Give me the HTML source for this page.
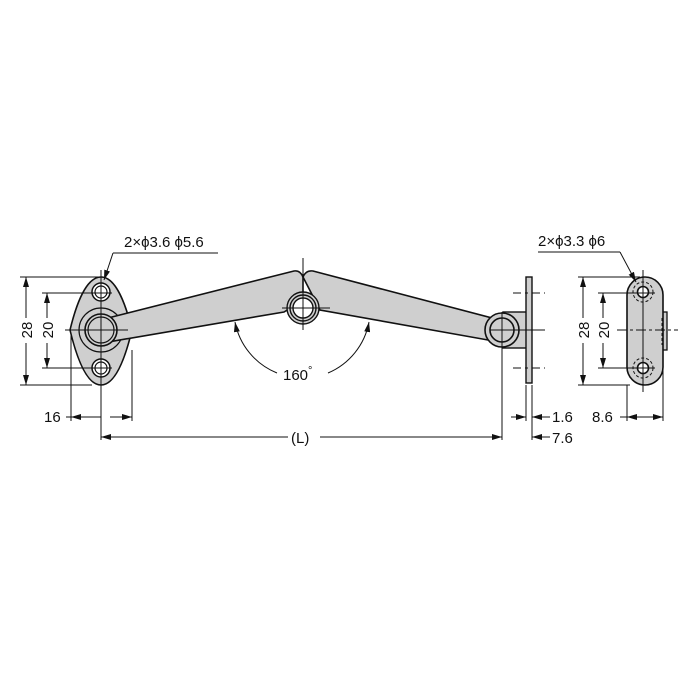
<!DOCTYPE html>
<html><head><meta charset="utf-8"><style>html,body{margin:0;padding:0;background:#fff}svg{display:block}</style></head>
<body>
<svg width="700" height="700" viewBox="0 0 700 700" xmlns="http://www.w3.org/2000/svg" font-family="Liberation Sans, Arial, sans-serif">
<defs>
<marker id="a" viewBox="0 0 10 6" refX="10" refY="3" markerWidth="10" markerHeight="6" orient="auto-start-reverse" markerUnits="userSpaceOnUse"><path d="M0,0L10,3L0,6z" fill="#111"/></marker>
</defs>
<g stroke="#111" fill="none">
<path d="M101,277 C116,277 126,305 132,330 C126,355 116,385 101,385 C86,385 76,355 70,330 C76,305 86,277 101,277Z" fill="#cfcfcf" stroke-width="1.6"/>
<circle cx="101" cy="330" r="22" stroke-width="1.2"/>
<circle cx="101" cy="292" r="9" fill="#fff" stroke-width="1.5"/><circle cx="101" cy="292" r="6" stroke-width="1.2"/>
<circle cx="101" cy="368" r="9" fill="#fff" stroke-width="1.5"/><circle cx="101" cy="368" r="6" stroke-width="1.2"/>
<path d="M108,318 L294,271 Q300,270 303,277 L303,300 L284,312 L108,342Z" fill="#cfcfcf" stroke-width="1.6"/>
<circle cx="101" cy="330" r="16" fill="#cfcfcf" stroke-width="1.6"/>
<circle cx="101" cy="330" r="13" stroke-width="1.2"/>
<path d="M303,277 Q306,270 313,271 L492,318 L488,340 L320,310 Z" fill="#cfcfcf" stroke-width="1.6"/>
<circle cx="303" cy="308" r="16" fill="#cfcfcf" stroke-width="1.4"/>
<circle cx="303" cy="308" r="13" stroke-width="1.4"/>
<circle cx="303" cy="308" r="10" fill="#fff" stroke-width="1.4"/>
<rect x="503" y="312" width="24" height="36" fill="#cfcfcf" stroke-width="1.4"/>
<circle cx="502" cy="330" r="17" fill="#cfcfcf" stroke-width="1.6"/>
<circle cx="502" cy="330" r="12" stroke-width="1.6"/>
<rect x="526" y="277" width="6" height="106" fill="#cfcfcf" stroke-width="1.4"/>
<rect x="662" y="312" width="5" height="38" fill="#cfcfcf" stroke-width="1.3"/>
<rect x="627" y="277" width="36" height="108" rx="18" fill="#cfcfcf" stroke-width="1.6"/>
<circle cx="643" cy="292" r="10" stroke-dasharray="3,2" stroke-width="1"/>
<circle cx="643" cy="368" r="10" stroke-dasharray="3,2" stroke-width="1"/>
<circle cx="643" cy="292" r="5.5" fill="#fff" stroke-width="1.6"/>
<circle cx="643" cy="368" r="5.5" fill="#fff" stroke-width="1.6"/>
<line x1="662" y1="318" x2="662" y2="345" stroke-dasharray="3,2" stroke-width="1"/>
</g>
<g stroke="#111" stroke-width="1" fill="none">
<line x1="101" y1="270" x2="101" y2="440"/>
<line x1="65" y1="330" x2="128" y2="330"/>
<line x1="303" y1="258" x2="303" y2="330"/><line x1="282" y1="308" x2="330" y2="308"/>
<line x1="502" y1="312" x2="502" y2="440"/><line x1="490" y1="330" x2="545" y2="330"/>
<line x1="513" y1="293" x2="545" y2="293" stroke-dasharray="8,4,3,4"/>
<line x1="513" y1="368" x2="545" y2="368" stroke-dasharray="8,4,3,4"/>
<line x1="643" y1="270" x2="643" y2="392"/><line x1="617" y1="330" x2="678" y2="330" stroke-dasharray="10,3,3,3"/>
<line x1="20" y1="277" x2="101" y2="277"/><line x1="20" y1="385" x2="92" y2="385"/>
<line x1="42" y1="293" x2="112" y2="293"/><line x1="42" y1="368" x2="112" y2="368"/>
<line x1="26" y1="277" x2="26" y2="318" marker-start="url(#a)"/><line x1="26" y1="343" x2="26" y2="385" marker-end="url(#a)"/>
<line x1="47" y1="293" x2="47" y2="318" marker-start="url(#a)"/><line x1="47" y1="343" x2="47" y2="368" marker-end="url(#a)"/>
<line x1="71" y1="335" x2="71" y2="421"/><line x1="132" y1="350" x2="132" y2="421"/>
<line x1="66" y1="417" x2="101" y2="417"/>
<line x1="90" y1="417" x2="71" y2="417" marker-end="url(#a)"/><line x1="110" y1="417" x2="132" y2="417" marker-end="url(#a)"/>
<line x1="101" y1="437" x2="288" y2="437" marker-start="url(#a)"/><line x1="320" y1="437" x2="502" y2="437" marker-end="url(#a)"/>
<line x1="532" y1="385" x2="532" y2="440"/><line x1="526" y1="385" x2="526" y2="421"/>
<line x1="511" y1="417" x2="526" y2="417" marker-end="url(#a)"/><line x1="550" y1="417" x2="532" y2="417" marker-end="url(#a)"/>
<line x1="550" y1="437" x2="532" y2="437" marker-end="url(#a)"/>
<line x1="578" y1="277" x2="640" y2="277"/><line x1="578" y1="385" x2="630" y2="385"/>
<line x1="598" y1="293" x2="655" y2="293"/><line x1="598" y1="368" x2="655" y2="368"/>
<line x1="583" y1="277" x2="583" y2="318" marker-start="url(#a)"/><line x1="583" y1="343" x2="583" y2="385" marker-end="url(#a)"/>
<line x1="603" y1="293" x2="603" y2="318" marker-start="url(#a)"/><line x1="603" y1="343" x2="603" y2="368" marker-end="url(#a)"/>
<line x1="627" y1="385" x2="627" y2="421"/><line x1="663" y1="350" x2="663" y2="421"/>
<line x1="627" y1="417" x2="663" y2="417" marker-start="url(#a)" marker-end="url(#a)"/>
<line x1="620" y1="417" x2="627" y2="417"/>
<line x1="113" y1="253" x2="218" y2="253"/><line x1="113" y1="253" x2="104" y2="280" marker-end="url(#a)"/>
<line x1="538" y1="252" x2="620" y2="252"/><line x1="620" y1="252" x2="636" y2="282" marker-end="url(#a)"/>
<path d="M235,322 A69,69 0 0 0 277,373" marker-start="url(#a)"/>
<path d="M328,373 A69,69 0 0 0 369,322" marker-end="url(#a)"/>
</g>
<g fill="#111" font-size="15">
<text x="124" y="247">2×ϕ3.6 ϕ5.6</text>
<text x="538" y="246">2×ϕ3.3 ϕ6</text>
<text x="283" y="380">160<tspan font-size="11" dy="-6">°</tspan></text>
<text x="44" y="422">16</text>
<text x="291" y="443">(L)</text>
<text x="552" y="422">1.6</text>
<text x="552" y="443">7.6</text>
<text x="592" y="422">8.6</text>
<text transform="translate(32,330) rotate(-90)" text-anchor="middle">28</text>
<text transform="translate(53,330) rotate(-90)" text-anchor="middle">20</text>
<text transform="translate(589,330) rotate(-90)" text-anchor="middle">28</text>
<text transform="translate(609,330) rotate(-90)" text-anchor="middle">20</text>
</g>
</svg>
</body></html>
